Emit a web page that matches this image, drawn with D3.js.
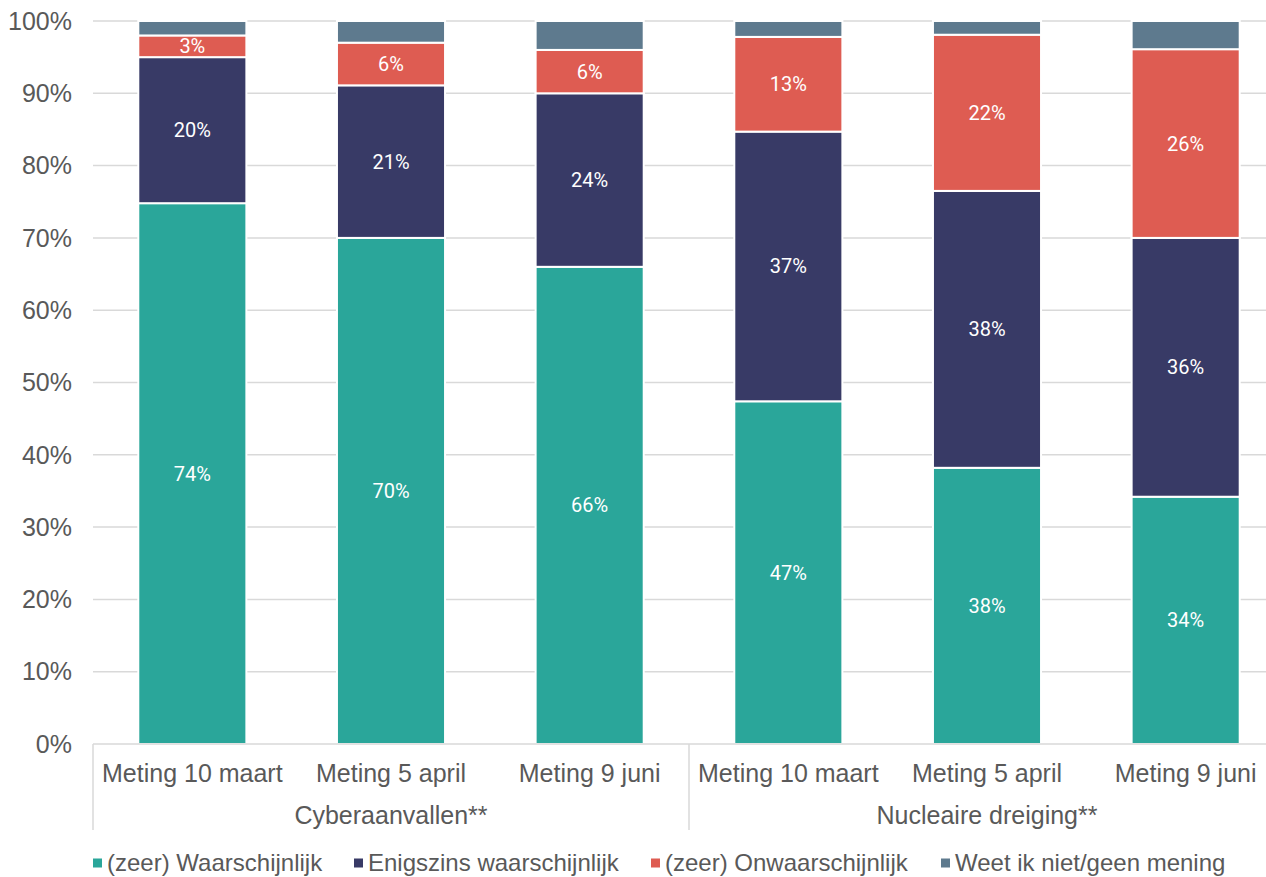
<!DOCTYPE html>
<html><head><meta charset="utf-8">
<script src="https://cdn.jsdelivr.net/npm/d3@7"></script>
<style>body{margin:0;background:#fff}svg{display:block}</style>
</head><body><svg id="c" width="1266" height="877"></svg>
<script>
const categories = ["Meting 10 maart","Meting 5 april","Meting 9 juni","Meting 10 maart","Meting 5 april","Meting 9 juni"];
const groups = ["Cyberaanvallen**","Nucleaire dreiging**"];
const seriesNames = ["(zeer) Waarschijnlijk","Enigszins waarschijnlijk","(zeer) Onwaarschijnlijk","Weet ik niet/geen mening"];
const waarschijnlijk = [74.8, 70.0, 66.0, 47.4, 38.2, 34.2];
const enigszins = [20.2, 21.1, 24.0, 37.3, 38.3, 35.8];
const onwaarschijnlijk = [3.0, 5.9, 6.0, 13.1, 21.6, 26.1];
const weetNiet = [2.0, 3.0, 4.0, 2.2, 1.9, 3.9];
const labelsWaarschijnlijk = ["74%","70%","66%","47%","38%","34%"];
const labelsEnigszins = ["20%","21%","24%","37%","38%","36%"];
const labelsOnwaarschijnlijk = ["3%","6%","6%","13%","22%","26%"];
const yTicks = [0,10,20,30,40,50,60,70,80,90,100];
const colors = ["#2aa69a","#383a66","#de5c52","#5e7a8e"];

(function(){
const svg = d3.select("#c");
const pL = 93, pR = 1285, pT = 21, pB = 744;
const x = d3.scaleBand().domain(d3.range(6)).range([pL,pR]).paddingInner(0.456).paddingOuter(0.228);
const step = (pR-pL)/6;
const y = d3.scaleLinear().domain([0,100]).range([pB,pT]);
const axisFont = "'Liberation Sans', Arial, sans-serif";
const txtCol = "#595959";
const fs = 25;

svg.append("g").selectAll("line").data(yTicks.filter(d=>d>0)).join("line")
  .attr("x1",pL).attr("x2",pR).attr("y1",d=>y(d)).attr("y2",d=>y(d))
  .attr("stroke","#d9d9d9").attr("stroke-width",1.5);

svg.append("g").selectAll("text").data(yTicks).join("text")
  .attr("x",72).attr("y",d=>y(d)).attr("dy","0.35em").attr("text-anchor","end")
  .attr("font-family",axisFont).attr("font-size",fs).attr("fill",txtCol)
  .text(d=>d+"%");

const seriesVals = [waarschijnlijk,enigszins,onwaarschijnlijk,weetNiet];
const seriesLabels = [labelsWaarschijnlijk,labelsEnigszins,labelsOnwaarschijnlijk,null];
const rows = d3.range(6).map(i=>{const o={i}; seriesVals.forEach((s,k)=>o["s"+k]=s[i]); return o;});
const stack = d3.stack().keys(["s0","s1","s2","s3"])(rows);
stack.forEach((layer,k)=>{
  const g = svg.append("g");
  g.selectAll("rect").data(layer).join("rect")
    .attr("x",d=>x(d.data.i)).attr("width",x.bandwidth())
    .attr("y",d=>y(d[1])).attr("height",d=>y(d[0])-y(d[1]))
    .attr("fill",colors[k]).attr("stroke","#fff").attr("stroke-width",2);
  if(seriesLabels[k]){
    g.selectAll("text").data(layer).join("text")
      .attr("x",d=>x(d.data.i)+x.bandwidth()/2).attr("y",d=>y((d[0]+d[1])/2))
      .attr("dy","0.35em").attr("text-anchor","middle")
      .attr("font-family","Roboto, sans-serif").attr("font-size",20).attr("fill","#fff")
      .text((d,j)=>seriesLabels[k][j]);
  }
});

svg.append("line").attr("x1",pL).attr("x2",pR).attr("y1",pB).attr("y2",pB)
  .attr("stroke","#d9d9d9").attr("stroke-width",1.5);
[0,3,6].forEach(i=>{
  const xx = pL + i*step;
  svg.append("line").attr("x1",xx).attr("x2",xx).attr("y1",pB).attr("y2",830)
    .attr("stroke","#d9d9d9").attr("stroke-width",1.5);
});
svg.append("g").selectAll("text").data(categories).join("text")
  .attr("x",(d,i)=>x(i)+x.bandwidth()/2).attr("y",782).attr("text-anchor","middle")
  .attr("font-family",axisFont).attr("font-size",fs).attr("fill",txtCol).text(d=>d);
svg.append("g").selectAll("text").data(groups).join("text")
  .attr("x",(d,i)=>pL + (i*3+1.5)*step).attr("y",824).attr("text-anchor","middle")
  .attr("font-family",axisFont).attr("font-size",fs).attr("fill",txtCol).text(d=>d);

const legX = [93, 354, 651, 941];
const lg = svg.append("g").selectAll("g").data(seriesNames).join("g")
  .attr("transform",(d,i)=>`translate(${legX[i]},863)`);
lg.append("rect").attr("x",0).attr("y",-4.5).attr("width",9).attr("height",9).attr("fill",(d,i)=>colors[i]);
lg.append("text").attr("x",14).attr("y",0).attr("dy","0.35em")
  .attr("font-family",axisFont).attr("font-size",24).attr("fill",txtCol).text(d=>d);
})();
</script></body></html>
